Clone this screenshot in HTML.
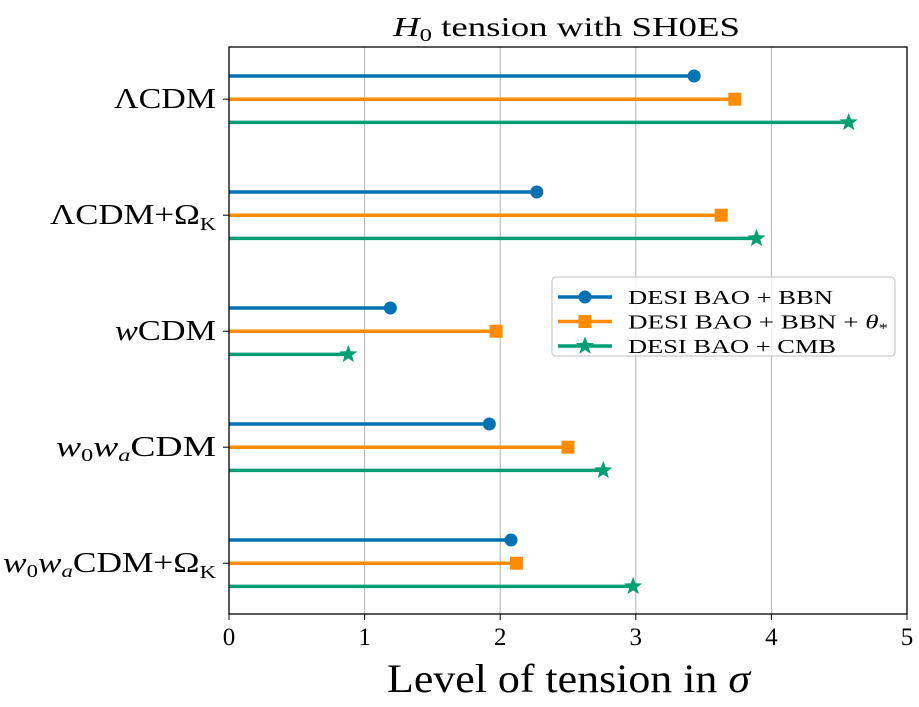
<!DOCTYPE html>
<html><head><meta charset="utf-8"><style>
body{margin:0;background:#fff}
svg text{font-family:"Liberation Serif",serif;fill:#000}
</style></head><body>
<svg width="919" height="702" viewBox="0 0 919 702">
<g id="grid"></g>
<g id="marks"></g>
<rect x="229" y="47" width="678" height="567" fill="none" stroke="#000" stroke-width="1.3"/>
<g id="xticks"></g>
<g id="ylabels"></g>
<text x="393" y="36" font-size="27" textLength="347" lengthAdjust="spacingAndGlyphs"><tspan font-style="italic">H</tspan><tspan font-size="18" dy="5">0</tspan><tspan dy="-5"> tension with SH0ES</tspan></text>
<text x="387" y="692" font-size="40" textLength="363" lengthAdjust="spacingAndGlyphs">Level of tension in <tspan font-style="italic">σ</tspan></text>
<g>
<rect x="552" y="277" width="343" height="79" rx="4" fill="rgba(255,255,255,0.8)" stroke="#ccc" stroke-width="1.2"/>
<g id="legend"></g>
</g>
</svg>
<script>
const categories=["ΛCDM","ΛCDM+Ω_K","wCDM","w0waCDM","w0waCDM+Ω_K"];
const seriesNames=["DESI BAO + BBN","DESI BAO + BBN + θ*","DESI BAO + CMB"];
const bbn=[3.43,2.27,1.19,1.92,2.08];
const bbnTheta=[3.73,3.63,1.97,2.50,2.12];
const cmb=[4.57,3.89,0.88,2.76,2.98];
const xTicks=[0,1,2,3,4,5];
const colors=["#0072b2","#ff8c00","#009e73"];
const labelWidths=[102,166,101,160,213];
const legendWidths=[205,260,208];
const NS="http://www.w3.org/2000/svg";
const X=v=>229+v*135.6;
const Y=(i,s)=>76+i*116+s*23.2;
function mk(t,a,p){const e=document.createElementNS(NS,t);for(const k in a)e.setAttribute(k,a[k]);p.appendChild(e);return e;}
const grid=document.getElementById('grid'),xt=document.getElementById('xticks');
xTicks.forEach(t=>{
 if(t>0&&t<5){const g=mk('line',{x1:X(t),x2:X(t),y1:47,y2:614,stroke:'#b0b0b0','stroke-width':1},grid);
 
 }
 const tk=mk('line',{x1:X(t),x2:X(t),y1:614,y2:620,stroke:'#000','stroke-width':1},xt);
 
 
 const tl=mk('text',{x:X(t),y:645,'font-size':25,'text-anchor':'middle'},xt);tl.textContent=t;
 
 
});
function marker(kind,x,y,c,p){
 let m;
 if(kind===0)m=mk('circle',{cx:x,cy:y,r:6.5,fill:c},p);
 else if(kind===1)m=mk('rect',{x:x-6.5,y:y-6.5,width:13,height:13,fill:c},p);
 else{let pts=[];for(let k=0;k<10;k++){const r=k%2?4:9.5,a=-Math.PI/2+k*Math.PI/5;pts.push((x+r*Math.cos(a)).toFixed(1)+','+(y+r*Math.sin(a)).toFixed(1));}
 m=mk('polygon',{points:pts.join(' '),fill:c},p);}
 return m;
}
const marks=document.getElementById('marks');
[bbn,bbnTheta,cmb].forEach((arr,s)=>{
 arr.forEach((v,i)=>{
  const l=mk('line',{x1:X(0),x2:X(v),y1:Y(i,s),y2:Y(i,s),stroke:colors[s],'stroke-width':3.5},marks);
  
  
  const m=marker(s,X(v),Y(i,s),colors[s],marks);
  
  
 });
});
const yl=document.getElementById('ylabels');
const labelHTML=['ΛCDM','ΛCDM+Ω<tspan font-size="18" dy="6">K</tspan>','<tspan font-style="italic">w</tspan>CDM',
'<tspan font-style="italic">w</tspan><tspan font-size="18" dy="5">0</tspan><tspan font-style="italic" dy="-5">w</tspan><tspan font-size="18" font-style="italic" dy="5">a</tspan><tspan dy="-5">CDM</tspan>',
'<tspan font-style="italic">w</tspan><tspan font-size="18" dy="5">0</tspan><tspan font-style="italic" dy="-5">w</tspan><tspan font-size="18" font-style="italic" dy="5">a</tspan><tspan dy="-5">CDM+Ω</tspan><tspan font-size="18" dy="6">K</tspan>'];
categories.forEach((c,i)=>{
 const t=mk('text',{x:216-labelWidths[i],y:Y(i,1)+9,'font-size':28,textLength:labelWidths[i],lengthAdjust:'spacingAndGlyphs'},yl);t.innerHTML=labelHTML[i];
 
 
 const tk=mk('line',{x1:223,x2:229,y1:Y(i,1),y2:Y(i,1),stroke:'#000'},yl);
 
 
});
const lg=document.getElementById('legend');
seriesNames.forEach((n,s)=>{
 const y=297+s*24.5;
 const l=mk('line',{x1:558,x2:612,y1:y,y2:y,stroke:colors[s],'stroke-width':3.5},lg);
 
 
 const m=marker(s,585,y,colors[s],lg);
 
 
 const t=mk('text',{x:628,y:y+7,'font-size':20,textLength:legendWidths[s],lengthAdjust:'spacingAndGlyphs'},lg);
 t.innerHTML=s===1?'DESI BAO + BBN + <tspan font-style="italic">θ</tspan><tspan font-size="14" dy="4">*</tspan>':n;
 
 
});
</script>
</body></html>
